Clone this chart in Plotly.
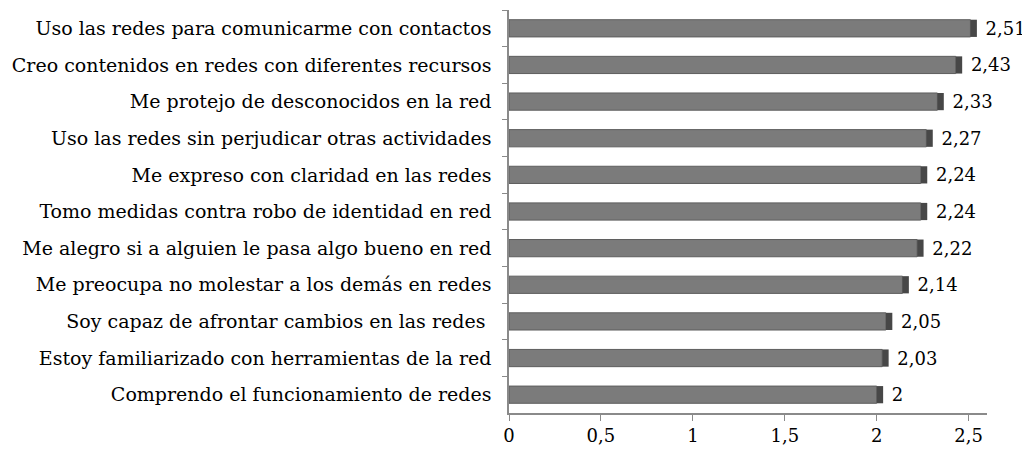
import plotly.graph_objects as go

categories = [
    "Uso las redes para comunicarme con contactos",
    "Creo contenidos en redes con diferentes recursos",
    "Me protejo de desconocidos en la red",
    "Uso las redes sin perjudicar otras actividades",
    "Me expreso con claridad en las redes",
    "Tomo medidas contra robo de identidad en red",
    "Me alegro si a alguien le pasa algo bueno en red",
    "Me preocupa no molestar a los demás en redes",
    "Soy capaz de afrontar cambios en las redes\u00a0",
    "Estoy familiarizado con herramientas de la red",
    "Comprendo el funcionamiento de redes",
]
values = [2.51, 2.43, 2.33, 2.27, 2.24, 2.24, 2.22, 2.14, 2.05, 2.03, 2.0]
value_labels = ["2,51", "2,43", "2,33", "2,27", "2,24", "2,24", "2,22", "2,14", "2,05", "2,03", "2"]
tick_vals = [0, 0.5, 1, 1.5, 2, 2.5]
tick_text = ["0", "0,5", "1", "1,5", "2", "2,5"]

FONT = "DejaVu Serif"
cap = 0.035

fig = go.Figure()
fig.add_trace(go.Bar(
    y=categories, x=values, orientation="h",
    marker=dict(color="#7b7b7b", line=dict(color="#5e5e5e", width=1)),
    width=0.47, hoverinfo="skip",
))
fig.add_trace(go.Bar(
    y=categories, x=[cap] * len(values), base=values, orientation="h",
    marker=dict(color="#474747", line=dict(width=0)),
    width=0.47, text=["\u00a0" + t for t in value_labels], textposition="outside",
    textfont=dict(family=FONT, size=18, color="#000"), constraintext="none",
    cliponaxis=False, hoverinfo="skip",
))

fig.update_layout(
    width=1030, height=454,
    margin=dict(l=501, r=51, t=2, b=49),
    paper_bgcolor="white", plot_bgcolor="white",
    showlegend=False, barmode="overlay",
    font=dict(family=FONT, size=18, color="#000"),
)
fig.update_xaxes(
    range=[0, 2.6], tickvals=tick_vals, ticktext=tick_text,
    showgrid=False, zeroline=False,
    showline=True, linecolor="#8a8a8a", linewidth=1.5,
    ticks="outside", ticklen=6, tickcolor="#8a8a8a",
    tickfont=dict(family=FONT, size=18, color="#000"),
)
fig.update_yaxes(
    autorange="reversed", showgrid=False, zeroline=False,
    showline=True, linecolor="#8a8a8a", linewidth=1.5,
    ticks="outside", ticklen=5, tickcolor="#8a8a8a", tickson="boundaries",
    tickfont=dict(family=FONT, size=19, color="#000"),
    ticklabelstandoff=12,
)

fig.write_html("out.html")
